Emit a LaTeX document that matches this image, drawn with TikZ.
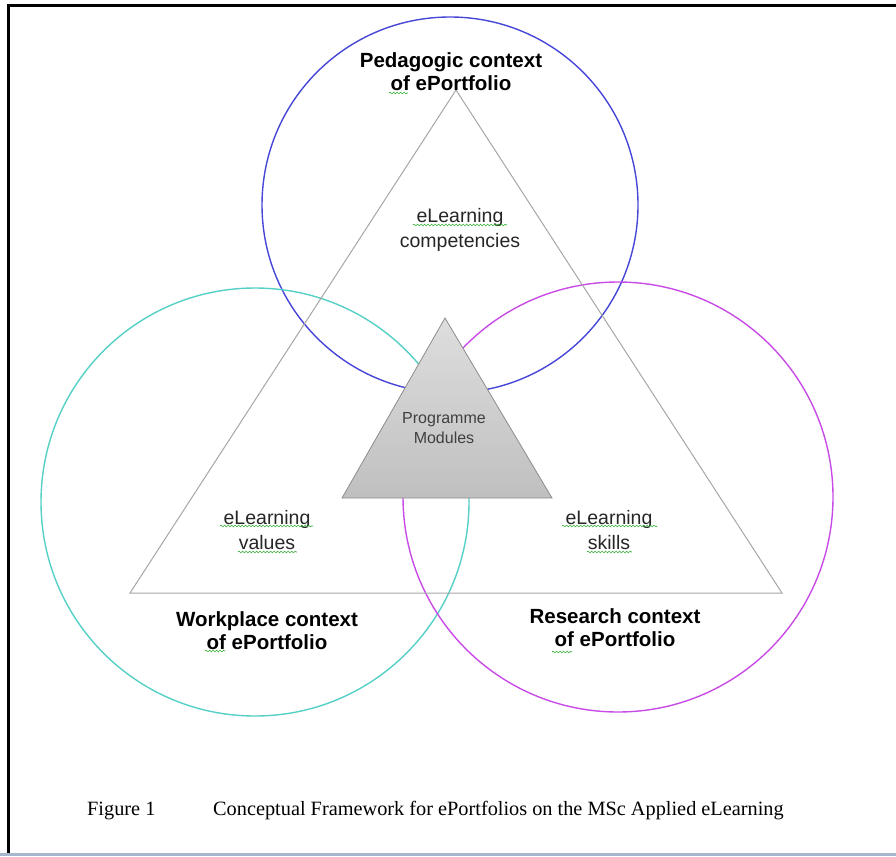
\documentclass[tikz,border=0pt]{standalone}
\usepackage{fontspec}
\setmainfont{Liberation Serif}
\setsansfont{Liberation Sans}
\usetikzlibrary{decorations.pathmorphing}

\definecolor{pedblue}{RGB}{70,70,215}
\definecolor{workcyan}{RGB}{85,208,198}
\definecolor{resmag}{RGB}{200,75,230}
\definecolor{bottomline}{RGB}{165,182,205}

\tikzset{
    ring/.style={line width=1.4pt},
    ctx/.style={font=\sffamily\bfseries\fontsize{20.5}{23}\selectfont, align=center, inner sep=0pt},
    lbl/.style={font=\sffamily\fontsize{19.5}{25}\selectfont, align=center, inner sep=0pt, text=black!85},
    squig/.style={draw=green!60!black!80, line width=0.6pt, decorate, decoration={snake, amplitude=0.9pt, segment length=3.5pt}}
}

\begin{document}
\begin{tikzpicture}[x=1pt,y=-1pt]
    \useasboundingbox (0,0) rectangle (896,856);
    % frame of the page
    \draw[line width=3pt] (8,856) -- (8,5.5) -- (896,5.5);
    \draw[line width=3pt, color=bottomline] (0,854.5) -- (896,854.5);

    % the three contexts
    \draw[ring, color=pedblue] (450,205) circle (188);
    \draw[ring, color=workcyan] (255,502) circle (214);
    \draw[ring, color=resmag] (618,497) circle (215);

    % outer triangle and programme modules
    \draw[color=black!35, line width=1pt] (456,90) -- (782,593) -- (130,593) -- cycle;
    \draw[color=black!45, line width=0.8pt, top color=black!13, middle color=black!2, bottom color=black!25]
        (445,318) -- (552,498) -- (342,498) -- cycle;

    \node[ctx] (ped) at (451,72) {Pedagogic context\\of ePortfolio};
    \node[ctx] (work) at (267,631) {Workplace context\\of ePortfolio};
    \node[ctx] (res) at (615,628) {Research context\\of ePortfolio};

    \node[lbl] (comp) at (460,230) {eLearning\\competencies};
    \node[lbl] (vals) at (267,530) {eLearning\\values};
    \node[lbl] (skil) at (609,530) {eLearning\\skills};
    \node[font=\sffamily\fontsize{16}{20}\selectfont, align=center, inner sep=0pt, text=black!75] (prog) at (444,428) {Programme\\Modules};

    % spelling marks
    \draw[squig] (389,93) -- (408,93);
    \draw[squig] (413,225) -- (507,225);
    \draw[squig] (220,526) -- (313,526);
    \draw[squig] (238,552) -- (297,552);
    \draw[squig] (562,526) -- (657,526);
    \draw[squig] (587,552) -- (632,552);
    \draw[squig] (205,651) -- (225,651);
    \draw[squig] (552,652) -- (572,652);

    % caption
    \node[anchor=base west, inner sep=0pt, font=\fontsize{20.3}{24}\selectfont] (fig) at (87,815) {Figure 1};
    \node[anchor=base west, inner sep=0pt, font=\fontsize{20.3}{24}\selectfont] (cap) at (213,815) {Conceptual Framework for ePortfolios on the MSc Applied eLearning};
\end{tikzpicture}
\end{document}
